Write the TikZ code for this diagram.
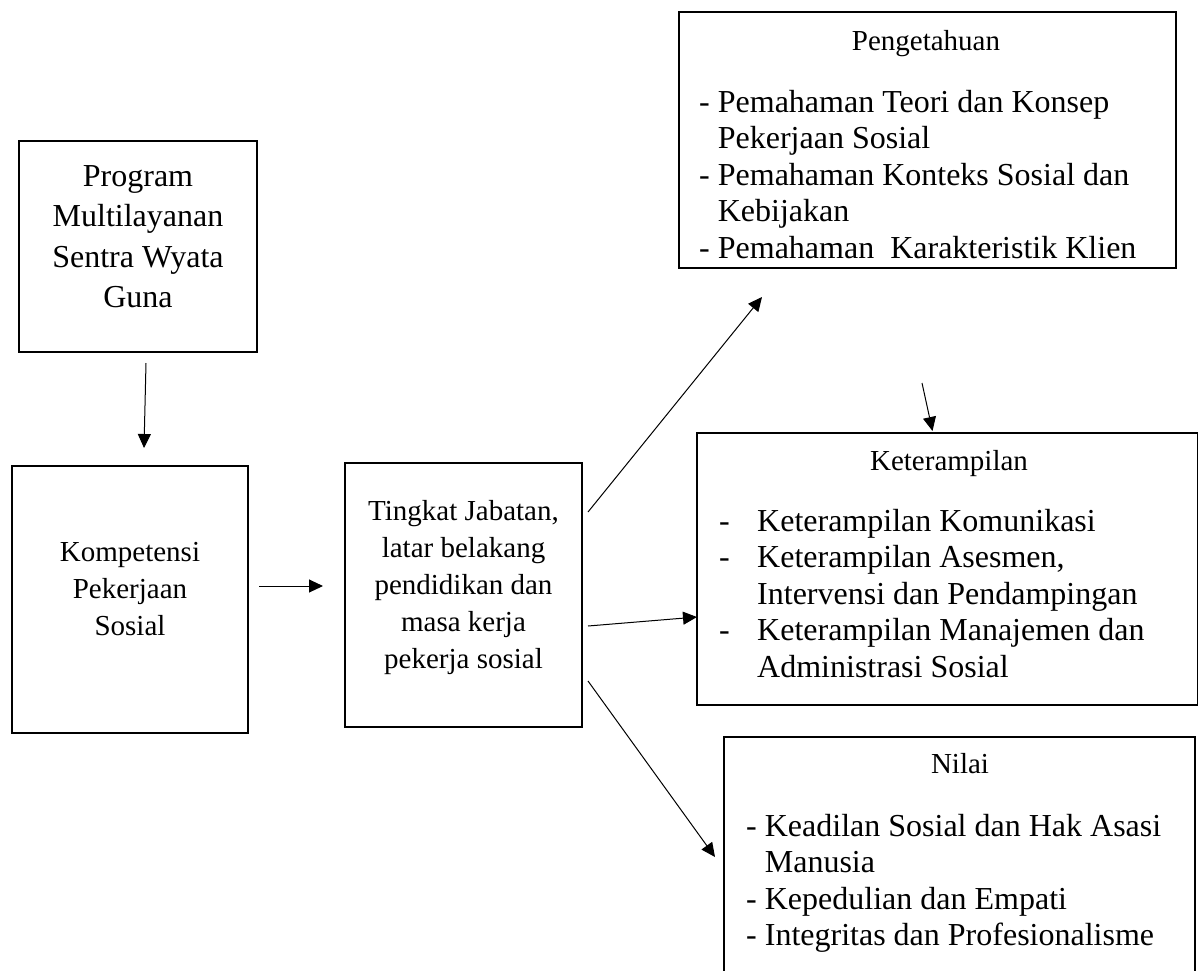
\documentclass[tikz,border=0pt]{standalone}
\usepackage{fontspec}
\setmainfont{Liberation Serif}
\usetikzlibrary{arrows.meta,calc}
\begin{document}
\begin{tikzpicture}[x=1pt,y=-1pt,
  box/.style={draw=black, line width=2.8pt, rectangle, inner sep=0pt, outer sep=0pt},
  arr/.style={draw=black, line width=1pt, -{Triangle[length=14pt,width=13pt]}},
  bigtxt/.style={inner sep=0pt, font={\fontsize{32}{36.5}\selectfont}},
  progtxt/.style={inner sep=0pt, font={\fontsize{32}{40.5}\selectfont}},
  midtxt/.style={inner sep=0pt, font={\fontsize{29}{37}\selectfont}},
]
\useasboundingbox (0,0) rectangle (1198,970);

% boxes
\node[box, minimum width=238pt, minimum height=211pt] (prog) at (138,246.5) {};
\node[box, minimum width=236pt, minimum height=267pt] (komp) at (130,599.5) {};
\node[box, minimum width=237pt, minimum height=264pt] (ting) at (463.5,595) {};
\node[box, minimum width=497pt, minimum height=256pt] (peng) at (927.5,140) {};
\node[box, minimum width=501pt, minimum height=272pt] (ket) at (947.5,569) {};
\node[box, minimum width=471pt, minimum height=263pt] (nil) at (959.5,868.5) {};

% texts
\node[progtxt, anchor=base] (progT) at (138,186)
  {\begin{tabular}[t]{@{}c@{}}Program\\Multilayanan\\Sentra Wyata\\Guna\end{tabular}};
\node[midtxt, anchor=base] (kompT) at (130,561)
  {\begin{tabular}[t]{@{}c@{}}Kompetensi\\Pekerjaan\\Sosial\end{tabular}};
\node[midtxt, anchor=base] (tingT) at (463.5,520)
  {\begin{tabular}[t]{@{}c@{}}Tingkat Jabatan,\\latar belakang\\pendidikan dan\\masa kerja\\pekerja sosial\end{tabular}};

\node[midtxt, anchor=base] (pengH) at (926,50) {Pengetahuan};
\node[bigtxt, anchor=base west] (pengL) at (699,112)
  {\begin{tabular}[t]{@{}l@{\ }l@{}}-&Pemahaman Teori dan Konsep\\&Pekerjaan Sosial\\-&Pemahaman Konteks Sosial dan\\&Kebijakan\\-&Pemahaman\ \ Karakteristik Klien\end{tabular}};

\node[midtxt, anchor=base] (ketH) at (949,470) {Keterampilan};
\node[bigtxt, anchor=base west] (ketL) at (719,531)
  {\begin{tabular}[t]{@{}p{38pt}@{}l@{}}-&Keterampilan Komunikasi\\-&Keterampilan Asesmen,\\&Intervensi dan Pendampingan\\-&Keterampilan Manajemen dan\\&Administrasi Sosial\end{tabular}};

\node[midtxt, anchor=base] (nilH) at (960,773) {Nilai};
\node[bigtxt, anchor=base west] (nilL) at (746,836)
  {\begin{tabular}[t]{@{}l@{\ }l@{}}-&Keadilan Sosial dan Hak Asasi\\&Manusia\\-&Kepedulian dan Empati\\-&Integritas dan Profesionalisme\end{tabular}};

% connectors
\coordinate (free) at (922,383);
\draw[arr] ($(prog.south)+(8,11)$) -- ($(komp.north)+(14,-18)$);
\draw[arr] ($(komp.east)+(11,-13.5)$) -- ($(ting.west)+(-22,-9)$);
\draw[arr] ($(ting.east)+(6,-83)$) -- ($(peng.south west)+(83,29)$);
\draw[arr] ($(ting.east)+(6,31)$) -- ($(ket.west)+(0,48)$);
\draw[arr] (free) -- ($(ket.north)+(-15,-2)$);
\draw[arr] ($(ting.east)+(6,86)$) -- ($(nil.north west)+(-9,120)$);
\end{tikzpicture}
\end{document}
